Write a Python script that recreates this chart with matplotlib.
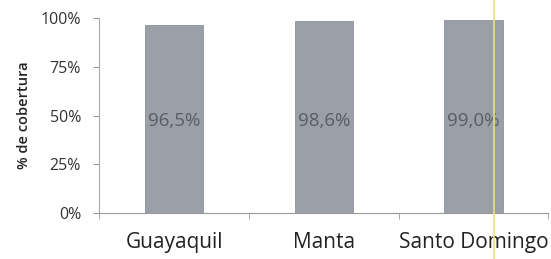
import matplotlib
matplotlib.use('Agg')
import matplotlib.pyplot as plt
import numpy as np

# --- data ---
categories = ['Guayaquil', 'Manta', 'Santo Domingo']
coverage = [96.5, 98.6, 99.0]
value_labels = ['96,5%', '98,6%', '99,0%']
y_ticks = [0, 25, 50, 75, 100]

plt.rcParams['font.family'] = ['Open Sans', 'DejaVu Sans']

fig = plt.figure(figsize=(5.51, 2.59), dpi=100)
ax = fig.add_axes([0.18, 0.178, 0.815, 0.752])

x = np.arange(len(categories))
ax.bar(x, coverage, width=0.39, color='#9b9fa8', edgecolor='#8e929b', linewidth=0.6)

for xi, lbl in zip(x, value_labels):
    ax.text(xi, 47, lbl, ha='center', va='center', fontsize=13.5, color='#5a5d63')

ax.set_xlim(-0.5, 2.5)
ax.set_ylim(0, 100)
ax.set_yticks(y_ticks)
ax.set_yticklabels([f'{v}%' for v in y_ticks], fontsize=11.5, color='#333333')
ax.set_xticks(x)
ax.set_xticklabels(categories, fontsize=15, color='#222222')
ax.set_xticks(np.arange(-0.5, 3, 1), minor=True)
ax.tick_params(axis='x', which='major', length=0, pad=14)
ax.tick_params(axis='x', which='minor', length=4, color='#999999', direction='out')
ax.tick_params(axis='y', length=4, color='#999999', direction='out', pad=9)

ax.set_ylabel('% de cobertura', fontsize=10.5, fontweight='semibold', color='#222222', labelpad=7)

for side in ['top', 'right']:
    ax.spines[side].set_visible(False)
ax.spines['left'].set_color('#aaaaaa')
ax.spines['bottom'].set_color('#999999')
ax.spines['left'].set_linewidth(0.8)
ax.spines['bottom'].set_linewidth(0.8)

# scan artefact: faint yellow vertical stripe
fig.add_artist(plt.Line2D([494 / 551, 494 / 551], [0, 1], transform=fig.transFigure,
                          color='#e9df8c', linewidth=1.2))

fig.savefig('out.png', dpi=100)
